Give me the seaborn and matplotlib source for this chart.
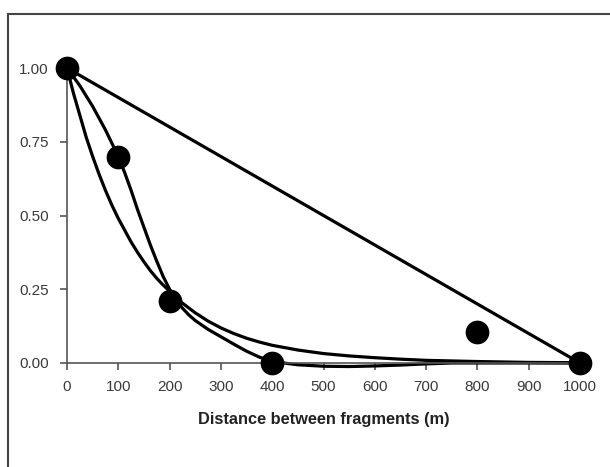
import numpy as np
import pandas as pd
import matplotlib
matplotlib.use("Agg")
import matplotlib.pyplot as plt
import seaborn as sns
from matplotlib.patches import Rectangle

# observed points
dist_obs = [0, 100, 200, 400, 800, 1000]
prob_obs = [1.00, 0.70, 0.21, 0.00, 0.105, 0.00]

# linear fit
lin_x = [0, 1000]
lin_y = [1.00, 0.00]

# sigmoid-like fit through the 100 m point
sig_x = [0, 12.5, 25, 37.5, 50, 62.5, 75, 87.5, 100, 112.5, 125, 137.5, 150,
         162.5, 175, 187.5, 200, 212.5, 225, 237.5, 250, 275, 300, 325, 350,
         375, 400, 450, 500, 550, 600, 650, 700, 750, 800, 900, 1000]
sig_y = [1.00, 0.97, 0.94, 0.905, 0.87, 0.83, 0.79, 0.745, 0.70, 0.645, 0.585,
         0.52, 0.46, 0.40, 0.345, 0.293, 0.25, 0.214, 0.186, 0.163, 0.144,
         0.114, 0.089, 0.064, 0.04, 0.02, 0.005, -0.006, -0.011, -0.012,
         -0.010, -0.007, -0.003, 0.0, 0.0, 0.0, 0.0]

# exponential-like fit
exp_x = [0, 12.5, 25, 37.5, 50, 62.5, 75, 87.5, 100, 112.5, 125, 137.5, 150,
         162.5, 175, 187.5, 200, 225, 250, 275, 300, 325, 350, 375, 400, 450,
         500, 550, 600, 650, 700, 800, 900, 1000]
exp_y = [1.00, 0.915, 0.84, 0.765, 0.70, 0.64, 0.585, 0.535, 0.49, 0.45, 0.41,
         0.375, 0.343, 0.313, 0.287, 0.264, 0.244, 0.203, 0.17, 0.142, 0.119,
         0.1, 0.084, 0.071, 0.06, 0.044, 0.032, 0.024, 0.018, 0.013, 0.009,
         0.005, 0.002, 0.001]

sns.set_style("white")
plt.rcParams['font.family'] = ['Liberation Sans', 'DejaVu Sans']

fig = plt.figure(figsize=(6.1, 4.67), dpi=100)
ax = fig.add_axes([67/610, 1 - 363/467, 513/610, 295/467])

for xs, ys in [(lin_x, lin_y), (sig_x, sig_y), (exp_x, exp_y)]:
    sns.lineplot(x=xs, y=ys, ax=ax, color="black", linewidth=2.3, sort=False)

pts = pd.DataFrame({"d": dist_obs, "p": prob_obs})
sns.scatterplot(data=pts, x="d", y="p", ax=ax, color="black", s=250,
                edgecolor="black", zorder=5, clip_on=False)

ax.set_xlim(0, 1000)
ax.set_ylim(0, 1.0)
ax.set_xticks(np.arange(0, 1001, 100))
ax.set_yticks([0, 0.25, 0.5, 0.75, 1.0])
ax.set_yticklabels(["0.00", "0.25", "0.50", "0.75", "1.00"])
for line in ax.get_lines():
    line.set_clip_on(False)

for side in ["top", "right"]:
    ax.spines[side].set_visible(False)
for side in ["left", "bottom"]:
    ax.spines[side].set_color("#555555")
    ax.spines[side].set_linewidth(1.2)

ax.tick_params(axis="x", direction="out", length=5, width=1.2, color="#555555",
               labelsize=11, labelcolor="#3a3a3a", pad=7, bottom=True)
ax.tick_params(axis="y", direction="out", length=5, width=1.2, color="#555555",
               labelsize=11, labelcolor="#3a3a3a", pad=8, left=True)

ax.set_xlabel("Distance between fragments (m)", fontsize=11.8, fontweight="bold",
              color="#222222", labelpad=13)
ax.set_ylabel("")

# outer frame
fig.patches.append(Rectangle((8/610, -0.05), 1.2, 1 - 14/467 + 0.05,
                             transform=fig.transFigure, fill=False,
                             edgecolor="#444444", linewidth=1.5))

fig.savefig("out.png", dpi=100)
